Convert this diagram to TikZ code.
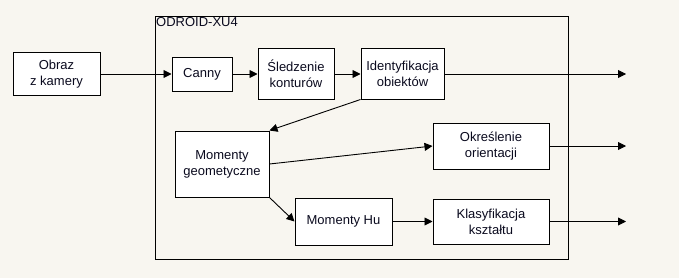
\documentclass[tikz,border=0pt]{standalone}
\usepackage{fontspec}
\setmainfont{Liberation Sans}
\usetikzlibrary{arrows.meta}
\definecolor{paper}{RGB}{248,246,240}
\definecolor{ink}{RGB}{10,10,30}
\begin{document}
\begin{tikzpicture}[x=1pt,y=-1pt,
  blk/.style={draw=black, line width=1pt, fill=white, align=center,
    inner sep=0pt, font=\fontsize{13}{16}\selectfont, text=ink},
  link/.style={draw=black, line width=0.9pt, -{Triangle[length=8pt,width=8pt]}}]
  % canvas
  \fill[paper] (0,0) rectangle (679,278);
  \useasboundingbox (0,0) rectangle (679,278);

  % board frame
  \draw[line width=1pt] (155,17) rectangle (568,259);
  \node[anchor=north west, inner sep=0pt, font=\fontsize{13}{16}\selectfont, text=ink]
    (board) at (156,17.5) {ODROID-XU4};

  % processing blocks
  \node[blk, minimum width=87pt, minimum height=42pt] (cam) at (56.5,74) {Obraz\\z kamery};
  \node[blk, minimum width=60pt, minimum height=34pt] (canny) at (202,74) {Canny};
  \node[blk, minimum width=76pt, minimum height=50pt] (track) at (296,74) {Śledzenie\\konturów};
  \node[blk, minimum width=83pt, minimum height=50pt] (ident) at (402.5,74) {Identyfikacja\\obiektów};
  \node[blk, minimum width=94pt, minimum height=66pt] (geo) at (222,164) {Momenty\\geometyczne};
  \node[blk, minimum width=116pt, minimum height=46pt] (orient) at (491,146) {Określenie\\orientacji};
  \node[blk, minimum width=97pt, minimum height=47pt] (hu) at (343.5,221.5) {Momenty Hu};
  \node[blk, minimum width=116pt, minimum height=45pt] (cls) at (491,221.5) {Klasyfikacja\\kształtu};

  % outputs
  \coordinate (out1) at (626,74);
  \coordinate (out2) at (626,146);
  \coordinate (out3) at (626,221.5);

  % connectors
  \draw[link] (cam) -- (canny);
  \draw[link] (canny) -- (track);
  \draw[link] (track) -- (ident);
  \draw[link] (ident) -- (out1);
  \draw[link] (ident.south west) -- (geo.north east);
  \draw[link] (geo.east) -- (orient.west);
  \draw[link] (geo.south east) -- (hu.west);
  \draw[link] (hu) -- (cls);
  \draw[link] (orient) -- (out2);
  \draw[link] (cls) -- (out3);
\end{tikzpicture}
\end{document}
